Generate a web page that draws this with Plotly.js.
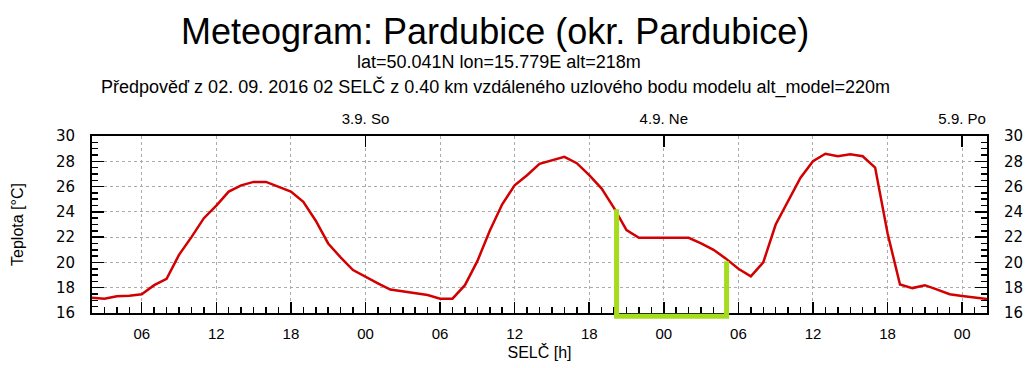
<!DOCTYPE html>
<html>
<head>
<meta charset="utf-8">
<script src="https://cdn.plot.ly/plotly-3.0.1.min.js"></script>
<style>html,body{margin:0;padding:0;background:#fff;}#chart{width:1032px;height:368px;}</style>
</head>
<body>
<div id="chart"></div>
<script>
// hours counted from 02.09.2016 00:00 SELČ
var hours = [2,3,4,5,6,7,8,9,10,11,12,13,14,15,16,17,18,19,20,21,22,23,24,25,26,27,28,29,30,31,32,33,34,35,36,37,38,39,40,41,42,43,44,45,46,47,48,49,50,51,52,53,54,55,56,57,58,59,60,61,62,63,64,65,66,67,68,69,70,71,72,73,74];
var temps = [17.2,17.12,17.33,17.37,17.48,18.2,18.7,20.6,22.0,23.5,24.5,25.6,26.1,26.37,26.37,26.0,25.6,24.8,23.3,21.5,20.4,19.4,18.85,18.35,17.85,17.7,17.55,17.42,17.13,17.13,18.2,20.1,22.5,24.6,26.1,26.9,27.8,28.05,28.35,27.85,26.9,25.84,24.3,22.55,21.95,21.95,21.95,21.95,21.95,21.5,21.0,20.3,19.5,18.9,20.0,23.0,24.9,26.7,28.0,28.6,28.4,28.55,28.4,27.5,22.3,18.25,17.97,18.2,17.85,17.48,17.35,17.2,17.1];

var tickHours = [6,12,18,24,30,36,42,48,54,60,66,72];
var tickLabels = ['06','12','18','00','06','12','18','00','06','12','18','00'];
var dayHours = [24,48,72];
var dayLabels = ['3.9. So','4.9. Ne','5.9. Po'];

// night marker (green)
var nightHours = [44.2, 53.05];
var nightTemps = [24.2, 20.1];
var nightBase = 15.74;

var xRange = [2, 74];
var yRange = [16, 30];

var FONT = 'Liberation Sans, Arial, sans-serif';
var NUMFONT = 'DejaVu Sans, Verdana, sans-serif';

function frac(v){ return (v - yRange[0]) / (yRange[1] - yRange[0]); }
var nightPath = 'M' + nightHours[0] + ',' + frac(nightTemps[0]) +
  ' L' + nightHours[0] + ',' + frac(nightBase) +
  ' L' + nightHours[1] + ',' + frac(nightBase) +
  ' L' + nightHours[1] + ',' + frac(nightTemps[1]);

var grid = {showgrid:true, gridcolor:'#ababab', gridwidth:1, griddash:'3px,3px'};

var traces = [
  {x: hours, y: temps, type:'scatter', mode:'lines', line:{color:'#d20000', width:2.5}, hoverinfo:'skip', xaxis:'x', yaxis:'y'},
  {x: hours, y: temps, type:'scatter', mode:'lines', line:{color:'rgba(0,0,0,0)', width:0}, hoverinfo:'skip', xaxis:'x2', yaxis:'y2'}
];

var layout = {
  width:1032, height:368,
  margin:{l:92, r:45, t:136, b:55},
  paper_bgcolor:'#fff', plot_bgcolor:'#fff',
  showlegend:false,
  font:{family:FONT, color:'#000'},
  xaxis: Object.assign({
    range:xRange, tickmode:'array', tickvals:tickHours, ticktext:tickLabels,
    ticks:'inside', ticklen:11, tickwidth:1.5, tickcolor:'#000',
    showline:true, linecolor:'#000', linewidth:2, zeroline:false,
    tickfont:{family:FONT, size:15, color:'#000'}, ticklabelstandoff:6,
    minor:{tickmode:'linear', tick0:0, dtick:1, ticks:'inside', ticklen:6, tickwidth:1.5, tickcolor:'#000', showgrid:false},
    title:{text:'SELČ [h]', font:{family:FONT, size:16, color:'#000'}, standoff:6}
  }, grid),
  xaxis2: {
    overlaying:'x', side:'top', range:xRange, tickmode:'array', tickvals:dayHours, ticktext:dayLabels,
    ticks:'inside', ticklen:11, tickwidth:1.5, tickcolor:'#000',
    showline:true, linecolor:'#000', linewidth:2, showgrid:false, zeroline:false,
    tickfont:{family:FONT, size:15, color:'#000'}, ticklabelstandoff:4
  },
  yaxis: Object.assign({
    range:yRange, tickmode:'linear', tick0:16, dtick:2,
    ticks:'inside', ticklen:12, tickwidth:1.5, tickcolor:'#000',
    showline:true, linecolor:'#000', linewidth:2, zeroline:false,
    tickfont:{family:NUMFONT, size:15, color:'#000'}, ticklabelstandoff:12,
    minor:{tickmode:'linear', tick0:16, dtick:0.5, ticks:'inside', ticklen:6, tickwidth:1.5, tickcolor:'#000', showgrid:false},
    title:{text:'Teplota [°C]', font:{family:FONT, size:16, color:'#000'}, standoff:28}
  }, grid),
  yaxis2: {
    overlaying:'y', side:'right', range:yRange, tickmode:'linear', tick0:16, dtick:2,
    ticks:'inside', ticklen:12, tickwidth:1.5, tickcolor:'#000',
    showline:true, linecolor:'#000', linewidth:2, showgrid:false, zeroline:false,
    tickfont:{family:NUMFONT, size:15, color:'#000'}, ticklabelstandoff:12,
    minor:{tickmode:'linear', tick0:16, dtick:0.5, ticks:'inside', ticklen:6, tickwidth:1.5, tickcolor:'#000', showgrid:false}
  },
  shapes:[
    {type:'path', xref:'x', yref:'y domain', path:nightPath, line:{color:'#a6dc1e', width:5}, layer:'above'}
  ],
  annotations:[
    {text:'Meteogram: Pardubice (okr. Pardubice)', xref:'paper', yref:'paper', x:0.4503, y:1.5876, xanchor:'center', yanchor:'middle', showarrow:false, font:{family:FONT, size:36, color:'#000'}},
    {text:'lat=50.041N lon=15.779E alt=218m', xref:'paper', yref:'paper', x:0.4542, y:1.418, xanchor:'center', yanchor:'middle', showarrow:false, font:{family:FONT, size:18, color:'#000'}},
    {text:'Předpověď z 02. 09. 2016 02 SELČ z 0.40 km vzdáleného uzlového bodu modelu alt_model=220m', xref:'paper', yref:'paper', x:0.4503, y:1.278, xanchor:'center', yanchor:'middle', showarrow:false, font:{family:FONT, size:18, color:'#000'}}
  ]
};

Plotly.newPlot('chart', traces, layout, {staticPlot:true, displayModeBar:false});
</script>
</body>
</html>
